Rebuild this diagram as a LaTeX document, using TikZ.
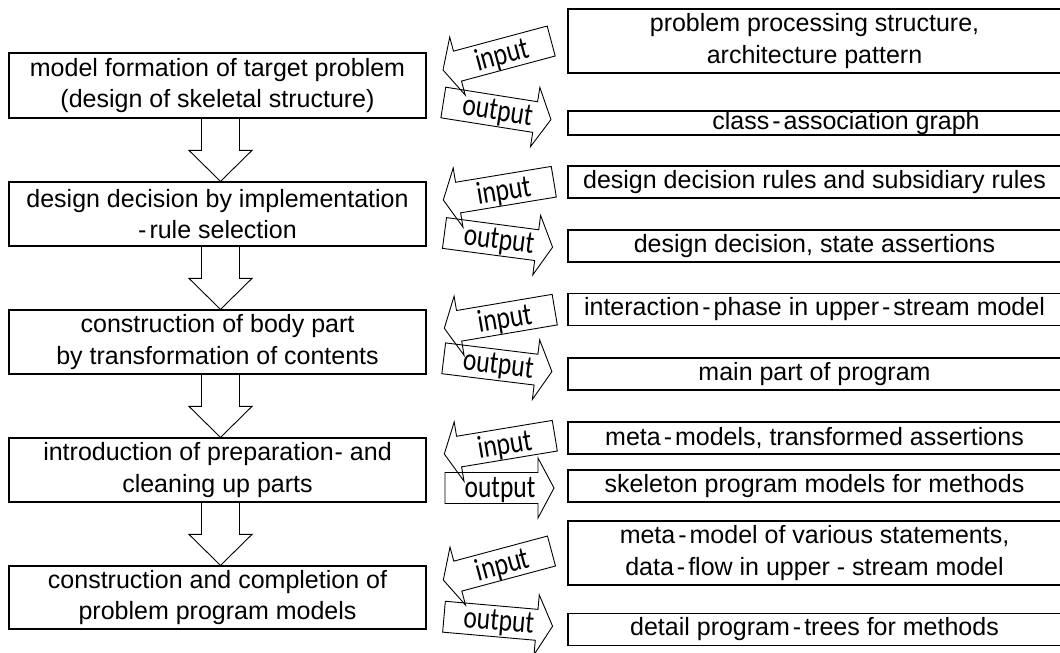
\documentclass[tikz,border=0pt]{standalone}
\usepackage{fontspec}
\usepackage{graphicx}
\setmainfont{Liberation Sans}
\newfontfamily\arrowfont{Carlito}
\usetikzlibrary{calc}

% spaced hyphen as set in the original text
\newcommand\hy{\kern3pt-\kern3pt}

% block arrow pointing down from one step box to the next
\newcommand\flowarrow[2]{%
  \draw[flowline] let \p1=(#1.south), \p2=(#2.north) in
    (\x1-16pt,\y1) -- (\x1-16pt,\y2+31pt) -- (\x1-28.5pt,\y2+31pt) --
    (\x1+3pt,\y2) -- (\x1+34.5pt,\y2+31pt) -- (\x1+22pt,\y2+31pt) --
    (\x1+22pt,\y1);}

% tilted "input" arrow: name, tip position, angle
\newcommand\inarrow[4]{%
  \begin{scope}[shift={(#2,#3)}, rotate=#4]
    \draw[ioline] (0,0) -- (15,-30) -- (15,-15.5) -- (112,-15.5) --
      (112,15.5) -- (15,15.5) -- (15,30) -- cycle;
    \node[iolabel, rotate=#4] (#1) at (61,2) {\scalebox{1}[1.25]{input}};
  \end{scope}}

% tilted "output" arrow: name, tail centre, angle
\newcommand\outarrow[4]{%
  \begin{scope}[shift={(#2,#3)}, rotate=#4]
    \draw[ioline] (0,-15.5) -- (93,-15.5) -- (93,-30) -- (109,0) --
      (93,30) -- (93,15.5) -- (0,15.5) -- cycle;
    \node[iolabel, rotate=#4] (#1) at (55,1.5) {\scalebox{1}[1.25]{output}};
  \end{scope}}

\begin{document}
\begin{tikzpicture}[x=1pt, y=-1pt,
  stepbox/.style={draw, line width=1.2pt, inner sep=0pt, align=center,
    minimum width=417pt, minimum height=64pt,
    font=\fontsize{25}{31.5}\selectfont},
  databox/.style={draw, line width=1.2pt, inner sep=0pt, align=center,
    minimum width=493pt, minimum height=32pt,
    font=\fontsize{25}{31.5}\selectfont},
  flowline/.style={draw, line width=0.9pt, line join=miter},
  ioline/.style={draw, line width=0.9pt, line join=miter},
  iolabel/.style={inner sep=0pt, font=\arrowfont\fontsize{25.5}{26}\selectfont}]

\useasboundingbox (0,0) rectangle (1060,653);

% process steps
\node[stepbox, minimum height=65pt] (s1) at (217.5,85.5)
  {model formation of target problem\\(design of skeletal structure)};
\node[stepbox] (s2) at (217.5,214)
  {design decision by implementation\\-\kern3pt rule selection};
\node[stepbox] (s3) at (217.5,342)
  {construction of body part\\by transformation of contents};
\node[stepbox] (s4) at (217.5,470)
  {introduction of preparation\kern1pt- and\\cleaning up parts};
\node[stepbox, minimum height=63pt] (s5) at (217.5,597.5)
  {construction and completion of\\problem program models};

\flowarrow{s1}{s2}
\flowarrow{s2}{s3}
\flowarrow{s3}{s4}
\flowarrow{s4}{s5}

% inputs and outputs of each step
\node[databox, minimum height=64pt] (d1) at (814.5,41)
  {problem processing structure,\\architecture pattern};
\node[databox, minimum height=24pt] (d2) at (814.5,123)
  {\hspace*{63pt}class\hy association graph};
\node[databox] (d3) at (814.5,182)
  {design decision rules and subsidiary rules};
\node[databox] (d4) at (814.5,246)
  {design decision, state assertions};
\node[databox] (d5) at (814.5,309.5)
  {interaction\hy phase in upper\hy stream model};
\node[databox] (d6) at (814.5,374)
  {main part of program};
\node[databox] (d7) at (814.5,438)
  {meta\hy models, transformed assertions};
\node[databox] (d8) at (814.5,486)
  {skeleton program models for methods};
\node[databox, minimum height=64pt] (d9) at (814.5,553)
  {meta\hy model of various statements,\\data\hy flow in upper - stream model};
\node[databox] (d10) at (814.5,629.5)
  {detail program\hy trees for methods};

% input / output arrows
\inarrow{in1}{443}{70}{15}
\outarrow{out1}{443.3}{102.5}{-9}
\inarrow{in2}{443.3}{200}{9.4}
\outarrow{out2}{444.5}{233}{-7.5}
\inarrow{in3}{444.3}{328.3}{9.6}
\outarrow{out3}{443.7}{358.3}{-7}
\inarrow{in4}{444.3}{454}{9.4}
\outarrow{out4}{445}{488}{0}
\inarrow{in5}{443.3}{580}{15}
\outarrow{out5}{444}{616.7}{-5}

\end{tikzpicture}
\end{document}
